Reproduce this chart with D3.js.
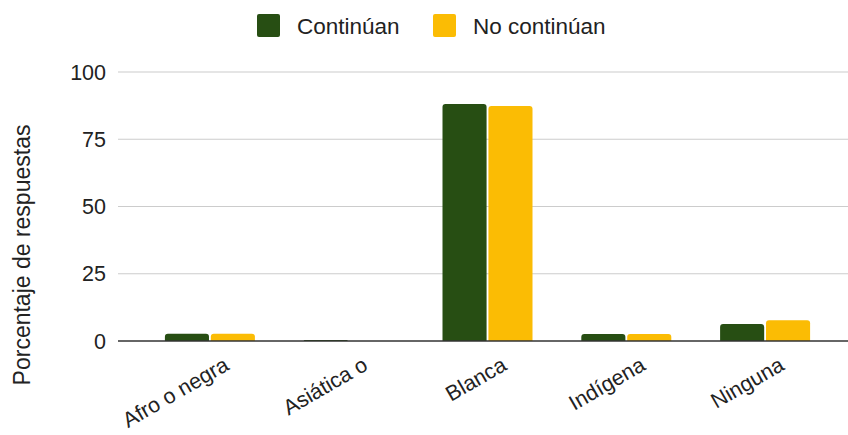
<!DOCTYPE html>
<html><head><meta charset="utf-8">
<script src="https://cdn.jsdelivr.net/npm/d3@7"></script>
<style>body{margin:0;background:#fff}svg{display:block;font-family:"Liberation Sans",Arial,sans-serif}</style>
</head><body><svg id="c" width="848" height="435"></svg>
<script>
const categories = ["Afro o negra","Asiática o","Blanca","Indígena","Ninguna"];
const seriesNames = ["Continúan","No continúan"];
const continuan = [2.7, 0.4, 88.1, 2.6, 6.3];
const noContinuan = [2.7, 0, 87.4, 2.6, 7.7];
const yTicks = [0,25,50,75,100];
const colors = ["#274e13","#fbbc04"];

const svg = d3.select("#c");
const x = d3.scaleBand().domain(categories).range([140.5,834.5]);
const xs = d3.scaleBand().domain([0,1]).range([0,90]).paddingInner(0.04);
const y = d3.scaleLinear().domain([0,100]).range([341,72]);

// gridlines
svg.append("g").selectAll("line").data(yTicks.filter(d=>d!==0)).join("line")
  .attr("x1",118).attr("x2",848).attr("y1",d=>y(d)).attr("y2",d=>y(d))
  .attr("stroke","#cccccc").attr("stroke-width",1.2);

// y labels
svg.append("g").selectAll("text").data(yTicks).join("text")
  .attr("x",106).attr("y",d=>y(d)).attr("dy","0.36em").attr("text-anchor","end")
  .attr("font-size",21.5).attr("fill","#222").text(d=>d);

// bars
const vals = [continuan, noContinuan];
const r = 3;
function barPath(x0,w,y0,y1){
  const h=y0-y1; const rr=Math.min(r,h,w/2);
  if(h<=0) return "";
  return `M${x0},${y0}V${y1+rr}Q${x0},${y1} ${x0+rr},${y1}H${x0+w-rr}Q${x0+w},${y1} ${x0+w},${y1+rr}V${y0}Z`;
}
vals.forEach((arr,si)=>{
  svg.append("g").selectAll("path").data(arr).join("path")
    .attr("d",(d,i)=>barPath(x(categories[i])+(x.bandwidth()-90)/2+xs(si), xs.bandwidth(), y(0), y(d)))
    .attr("fill",colors[si]);
});

// zero line
svg.append("line").attr("x1",118).attr("x2",848).attr("y1",y(0)).attr("y2",y(0))
  .attr("stroke","#333").attr("stroke-width",1.5);

// x labels
svg.append("g").selectAll("text").data(categories).join("text")
  .attr("transform",d=>`translate(${x(d)+x.bandwidth()/2+13},${356}) rotate(-30)`)
  .attr("text-anchor","end").attr("dy","0.7em").attr("font-size",21.5).attr("fill","#222").text(d=>d);

// y title
svg.append("text").attr("transform","translate(30,255) rotate(-90)")
  .attr("text-anchor","middle").attr("font-size",23).attr("fill","#222").text("Porcentaje de respuestas");

// legend
const lg = svg.append("g");
const lx = [257,433];
seriesNames.forEach((n,i)=>{
  lg.append("rect").attr("x",lx[i]).attr("y",14).attr("width",23).attr("height",23).attr("rx",2).attr("fill",colors[i]);
  lg.append("text").attr("x",lx[i]+40).attr("y",26).attr("dy","0.36em").attr("font-size",22.5).attr("fill","#222").text(n);
});
</script></body></html>
